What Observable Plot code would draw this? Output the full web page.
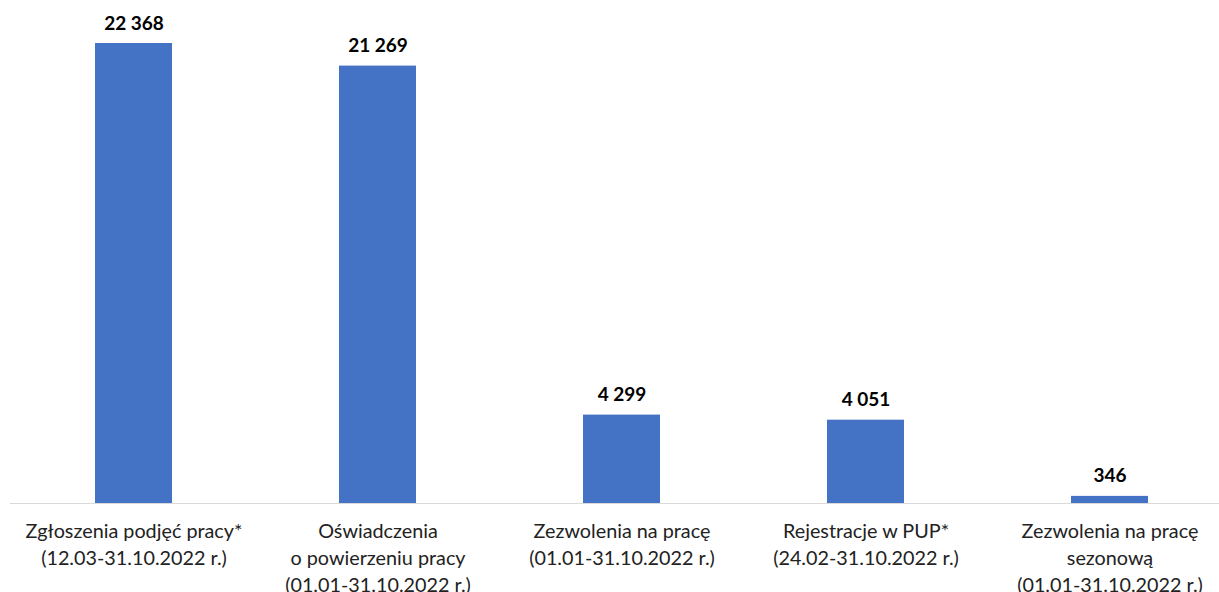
<!DOCTYPE html>
<html>
<head>
<meta charset="utf-8">
<script src="https://cdn.jsdelivr.net/npm/d3@7"></script>
<script src="https://cdn.jsdelivr.net/npm/@observablehq/plot@0.6"></script>
<style>
  html, body { margin: 0; padding: 0; background: #fff; overflow: hidden; }
  svg { display: block; }
</style>
</head>
<body>
<div id="chart"></div>
<script>
const categories = [
  "Zgłoszenia podjęć pracy*\n(12.03-31.10.2022 r.)",
  "Oświadczenia\no powierzeniu pracy\n(01.01-31.10.2022 r.)",
  "Zezwolenia na pracę\n(01.01-31.10.2022 r.)",
  "Rejestracje w PUP*\n(24.02-31.10.2022 r.)",
  "Zezwolenia na pracę\nsezonową\n(01.01-31.10.2022 r.)"
];
const values = [22368, 21269, 4299, 4051, 346];

const data = categories.map((c, i) => ({category: c, value: values[i]}));
const fmt = d3.formatLocale({thousands: "\u00a0", grouping: [3], decimal: ","}).format(",");

const chart = Plot.plot({
  width: 1219,
  height: 592,
  marginTop: 43,
  marginBottom: 89,
  marginLeft: 10,
  marginRight: -13,
  style: {fontFamily: "Lato, sans-serif", background: "#fff", overflow: "visible"},
  x: {domain: categories, paddingInner: 0.685, paddingOuter: 0.3425, label: null},
  y: {domain: [0, 22368], axis: null},
  marks: [
    Plot.barY(data, {x: "category", y: "value", fill: "#4472C4"}),
    Plot.ruleY([0], {stroke: "#d9d9d9", strokeWidth: 1}),
    Plot.text(data, {x: "category", y: "value", text: d => fmt(d.value), dy: -14, lineAnchor: "bottom", fontWeight: "bold", fontSize: 19, fill: "#000"}),
    Plot.axisX({tickSize: 0, tickPadding: 15, fontSize: 19.8, lineHeight: 1.37, fill: "#222", label: null})
  ]
});
document.getElementById("chart").appendChild(chart);
</script>
</body>
</html>
